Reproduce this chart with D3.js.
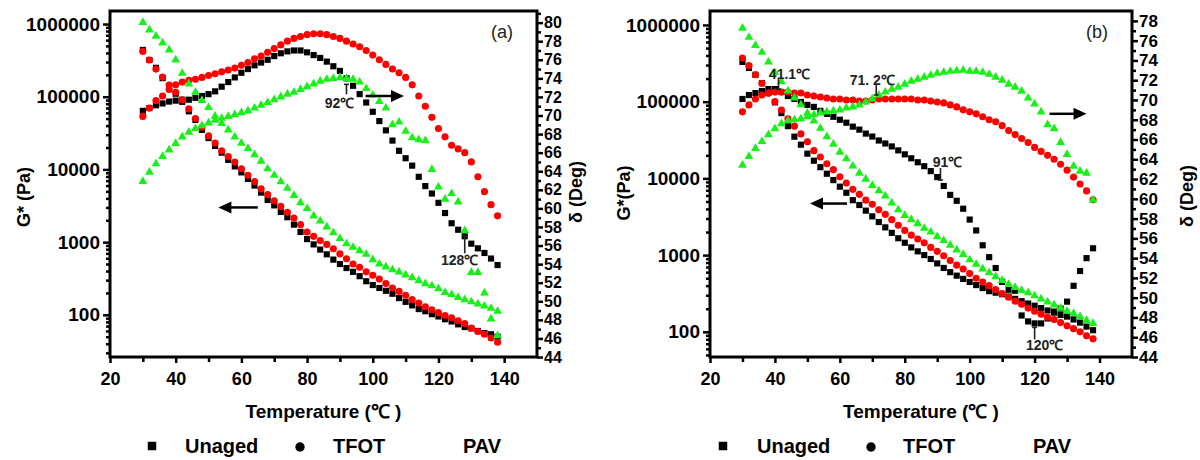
<!DOCTYPE html>
<html>
<head>
<meta charset="utf-8">
<script src="https://cdn.jsdelivr.net/npm/d3@7"></script>
<style>
  body { margin: 0; background: #fff; }
</style>
</head>
<body>
<svg id="chart" width="1200" height="460"></svg>
<script>
// temperatures (deg C), one point every 2 degrees
var temps = [30,32,34,36,38,40,42,44,46,48,50,52,54,56,58,60,62,64,66,68,70,72,74,76,78,80,82,84,86,88,
  90,92,94,96,98,100,102,104,106,108,110,112,114,116,118,120,122,124,126,128,130,132,134,136,138];

// panel (a): G* in Pa
var gUnagedA = [4.4e5,3.2e5,2.5e5,1.8e5,1.4e5,1.1e5,8.5e4,6.3e4,4.8e4,3.5e4,2.7e4,2.1e4,1.7e4,1.35e4,1.1e4,9100,7400,6000,4800,3800,
  3200,2600,2200,1740,1380,1100,930,790,680,575,500,440,390,340,290,257,234,214,195,170,151,135,120,112,102,95,87,81,74,68,65,60,56,54,50];
var gTfotA = [4.2e5,3.2e5,2.4e5,1.86e5,1.45e5,1.15e5,9.1e4,6.8e4,5.0e4,3.8e4,2.9e4,2.3e4,1.8e4,1.5e4,1.26e4,1.02e4,8300,6800,5400,4500,
  3700,3100,2570,2140,1740,1380,1200,1050,930,810,690,590,500,450,390,350,310,270,234,210,186,162,145,129,117,107,98,91,83,76,66,59,54,48,42];
var gPavA = [1.05e6,8.3e5,6.8e5,5.5e5,4.4e5,3.2e5,2.1e5,1.5e5,1.15e5,8.9e4,7.1e4,5.4e4,4.3e4,3.5e4,2.8e4,2.3e4,1.95e4,1.6e4,1.3e4,1.02e4,
  8300,6800,5500,4400,3500,2900,2300,1950,1620,1350,1120,950,850,760,680,575,500,457,417,390,355,324,295,269,251,229,204,190,174,162,151,141,132,123,112];
// panel (a): phase angle delta in deg
var dUnagedA = [70.5,70.8,71.1,71.3,71.5,71.6,71.7,71.7,71.9,72.1,72.3,72.6,73.1,73.6,74.1,74.6,75.0,75.4,75.7,76.0,
  76.4,76.7,76.9,77.0,77.0,76.8,76.5,76.2,75.8,75.3,74.8,74.0,73.2,72.3,71.4,70.4,69.4,68.4,67.3,66.2,
  65.4,64.6,63.4,62.4,61.6,60.6,59.5,58.4,57.7,57.0,56.2,55.7,55.2,54.6,53.9];
var dTfotA = [69.9,70.8,71.6,72.1,72.8,73.3,73.6,73.8,73.9,74.1,74.3,74.5,74.7,74.9,75.1,75.4,75.7,76.1,76.4,76.8,
  77.2,77.6,78.0,78.3,78.5,78.7,78.8,78.8,78.7,78.5,78.3,78.0,77.7,77.4,77.0,76.5,76.0,75.5,75.0,74.6,
  74.1,73.3,72.1,71.0,69.8,68.6,67.7,66.8,66.4,66.0,65.0,63.4,61.8,60.4,59.2];
var dPavA = [62.9,63.9,64.8,65.6,66.3,67.0,67.7,68.2,68.6,68.9,69.2,69.5,69.7,69.9,70.1,70.3,70.5,70.8,71.1,71.4,
  71.7,72.0,72.3,72.5,72.8,73.1,73.4,73.7,73.9,74.0,74.1,74.0,73.9,73.6,72.9,72.2,71.5,70.8,69.0,69.3,
  68.3,67.6,67.4,67.3,64.2,62.3,61.0,61.6,60.7,57.6,53.1,53.1,50.9,48.1,46.3];

// panel (b): G* in Pa
var gUnagedB = [3.3e5,2.75e5,2.24e5,1.74e5,1.32e5,9.8e4,7.1e4,4.8e4,3.5e4,2.75e4,2.1e4,1.7e4,1.4e4,1.15e4,9500,7800,6500,5200,4500,3800,
  3200,2700,2300,1950,1660,1450,1260,1120,1000,890,780,680,600,540,490,447,407,372,339,324,309,288,269,251,234,219,204,190,178,166,158,145,132,117,105];
var gTfotB = [3.7e5,2.95e5,2.24e5,1.74e5,1.29e5,1.0e5,7.8e4,6.0e4,4.8e4,3.8e4,3.0e4,2.3e4,1.9e4,1.55e4,1.3e4,1.05e4,8700,7200,6200,5200,
  4600,3900,3400,2900,2450,2100,1820,1620,1450,1260,1120,980,850,740,660,575,500,447,400,355,316,282,251,229,204,186,170,155,145,132,120,110,100,89,81];
var gPavB = [9.1e5,6.9e5,5.4e5,4.4e5,3.3e5,2.4e5,1.82e5,1.38e5,1.12e5,9.1e4,7.1e4,5.6e4,4.5e4,3.5e4,2.8e4,2.2e4,1.8e4,1.45e4,1.17e4,9800,
  8100,6900,5900,4800,3900,3300,2900,2570,2240,2000,1740,1550,1350,1170,1020,870,760,660,590,525,468,417,380,347,324,295,269,245,224,204,186,174,158,141,129];
// panel (b): phase angle delta in deg
var dUnagedB = [70.1,70.5,70.7,70.9,71.1,71.1,70.8,70.4,70.1,69.8,69.5,69.3,68.9,68.6,68.3,68.0,67.7,67.3,67.0,66.6,
  66.3,65.9,65.6,65.3,64.9,64.5,64.1,63.7,63.3,62.8,62.2,61.3,60.4,59.8,59.0,57.9,56.8,55.3,54.1,53.0,
  51.6,50.8,50.7,48.2,47.6,47.4,47.4,47.9,48.6,48.9,49.6,51.2,52.7,54.0,55.0];
var dTfotB = [68.8,69.5,70.1,70.5,70.7,70.8,70.8,70.8,70.7,70.7,70.5,70.4,70.3,70.2,70.1,70.1,70.0,70.0,69.9,69.9,
  70.0,70.1,70.1,70.1,70.1,70.1,70.1,70.0,70.0,69.9,69.8,69.7,69.5,69.3,69.0,68.8,68.6,68.3,68.0,67.8,
  67.4,66.9,66.5,66.1,65.7,65.2,64.8,64.4,64.0,63.5,62.9,62.2,61.5,60.8,59.9];
var dPavB = [63.4,64.3,65.1,65.8,66.5,67.1,67.6,67.9,68.0,68.1,68.3,68.5,68.7,68.8,68.9,69.0,69.2,69.3,69.5,69.8,
  70.1,70.5,70.8,71.1,71.3,71.6,71.9,72.1,72.3,72.5,72.7,72.8,72.9,72.95,73.0,72.9,72.9,72.8,72.6,72.3,
  72.0,71.6,71.3,70.9,70.2,69.6,68.8,67.5,67.1,65.7,64.5,63.3,62.8,62.6,59.9];

// axis ticks
var xMajor = [20,40,60,80,100,120,140];
var xMinor = [30,50,70,90,110,130];
var gMajor = [100,1000,10000,100000,1000000];

var FONT = '"Liberation Sans", Arial, Helvetica, sans-serif';
var svg = d3.select("#chart");

var sampleStyle = {
  Unaged: { color: "#000000", shape: d3.symbolSquare, size: 38 },
  TFOT:   { color: "#ff0000", shape: d3.symbolCircle, size: 40 },
  PAV:    { color: "#19f019", shape: d3.symbolTriangle, size: 34 }
};

var panels = [
  {
    name: "(a)", left: 110, right: 537, top: 11, bottom: 357,
    gDomain: [26.3, 1.51e6], dDomain: [44, 81.25], dTop: 80, dFont: 16,
    gTitle: "G* (Pa)", gTitleX: 24, gTitleY: 197, dTitleX: 576, dTitleY: 192,
    series: [
      { sample: "Unaged", g: gUnagedA, d: dUnagedA },
      { sample: "TFOT", g: gTfotA, d: dTfotA },
      { sample: "PAV", g: gPavA, d: dPavA }
    ],
    notes: [
      { t: 92, d: 74.0, label: "92℃", from: 6, to: 16, tx: -7, ty: 30 },
      { t: 128, d: 57.0, label: "128℃", from: 0, to: 17, tx: -5, ty: 29 }
    ],
    arrows: [
      { axis: "g", t0: 65, t1: 53, v: 3000 },
      { axis: "d", t0: 97.8, t1: 109.5, v: 72.1 }
    ],
    legend: [152, 185, 300, 333, 463]
  },
  {
    name: "(b)", left: 710, right: 1132, top: 11, bottom: 357,
    gDomain: [47, 1.52e6], dDomain: [44, 79], dTop: 78, dFont: 17,
    gTitle: "G*(Pa)", gTitleX: 624, gTitleY: 193, dTitleX: 1187, dTitleY: 196,
    series: [
      { sample: "Unaged", g: gUnagedB, d: dUnagedB },
      { sample: "TFOT", g: gTfotB, d: dTfotB },
      { sample: "PAV", g: gPavB, d: dPavB }
    ],
    notes: [
      { t: 41.1, d: 70.9, label: "41.1℃", from: -12, to: -2, tx: 11, ty: -12 },
      { t: 71.2, d: 70.3, label: "71. 2℃", from: -12, to: -2, tx: -4, ty: -12 },
      { t: 91, d: 61.8, label: "91℃", from: -13, to: -1, tx: 7, ty: -14 },
      { t: 120, d: 47.4, label: "120℃", from: 4, to: 16, tx: 10, ty: 27 }
    ],
    arrows: [
      { axis: "g", t0: 62.2, t1: 50.8, v: 4700 },
      { axis: "d", t0: 124.6, t1: 136, v: 68.6 }
    ],
    legend: [723, 757, 871, 903, 1033]
  }
];

function styleAxis(sel, fs) {
  sel.attr("font-family", FONT).attr("font-size", fs).attr("font-weight", "bold");
  sel.select(".domain").remove();
  sel.selectAll(".tick line").attr("stroke", "#000").attr("stroke-width", 2.5);
  sel.selectAll(".tick text").attr("fill", "#000");
}

function drawPanel(p) {
  var x = d3.scaleLinear().domain([20, 150]).range([p.left, p.right]);
  var yG = d3.scaleLog().domain(p.gDomain).range([p.bottom, p.top]);
  var yD = d3.scaleLinear().domain(p.dDomain).range([p.bottom, p.top]);
  var g = svg.append("g");

  // x axis
  g.append("g").attr("transform", "translate(0," + p.bottom + ")")
    .call(d3.axisBottom(x).tickValues(xMinor).tickSize(5).tickFormat(""))
    .call(styleAxis, 18);
  g.append("g").attr("transform", "translate(0," + p.bottom + ")")
    .call(d3.axisBottom(x).tickValues(xMajor).tickSize(6).tickPadding(9).tickFormat(d3.format("d")))
    .call(styleAxis, 18);

  // left log axis
  var gMinor = yG.ticks().filter(function (v) { return gMajor.indexOf(v) < 0; });
  g.append("g").attr("transform", "translate(" + p.left + ",0)")
    .call(d3.axisLeft(yG).tickValues(gMinor).tickSize(4).tickFormat(""))
    .call(styleAxis, 19);
  g.append("g").attr("transform", "translate(" + p.left + ",0)")
    .call(d3.axisLeft(yG).tickValues(gMajor).tickSize(7).tickPadding(3).tickFormat(d3.format("d")))
    .call(styleAxis, 19);

  // right delta axis
  var dMajor = d3.range(44, p.dTop + 1, 2);
  var dMinor = d3.range(45, p.dDomain[1], 2);
  g.append("g").attr("transform", "translate(" + p.right + ",0)")
    .call(d3.axisRight(yD).tickValues(dMinor).tickSize(4).tickFormat(""))
    .call(styleAxis, p.dFont);
  g.append("g").attr("transform", "translate(" + p.right + ",0)")
    .call(d3.axisRight(yD).tickValues(dMajor).tickSize(6).tickPadding(1).tickFormat(d3.format("d")))
    .call(styleAxis, p.dFont);

  // frame
  g.append("rect")
    .attr("x", p.left).attr("y", p.top)
    .attr("width", p.right - p.left).attr("height", p.bottom - p.top)
    .attr("fill", "none").attr("stroke", "#000").attr("stroke-width", 3);

  // data markers: G* and delta for each sample
  p.series.forEach(function (s) {
    var st = sampleStyle[s.sample];
    var sym = d3.symbol().type(st.shape).size(st.size);
    var pts = temps.map(function (t, i) { return { t: t, g: s.g[i], d: s.d[i] }; });
    g.append("g").selectAll("path").data(pts).join("path")
      .attr("d", sym)
      .attr("fill", st.color)
      .attr("transform", function (d) { return "translate(" + x(d.t) + "," + yG(d.g) + ")"; });
    g.append("g").selectAll("path").data(pts).join("path")
      .attr("d", sym)
      .attr("fill", st.color)
      .attr("transform", function (d) { return "translate(" + x(d.t) + "," + yD(d.d) + ")"; });
  });

  // temperature annotations
  p.notes.forEach(function (n) {
    var nx = x(n.t), ny = yD(n.d);
    var y0 = ny + n.from, y1 = ny + n.to;
    var capY = n.from < 0 ? y1 : y0;
    g.append("line").attr("x1", nx).attr("x2", nx).attr("y1", y0).attr("y2", y1)
      .attr("stroke", "#222").attr("stroke-width", 1.6);
    g.append("line").attr("x1", nx - 2.5).attr("x2", nx + 2.5).attr("y1", capY).attr("y2", capY)
      .attr("stroke", "#222").attr("stroke-width", 1.6);
    g.append("text").attr("x", nx + n.tx).attr("y", ny + n.ty)
      .attr("text-anchor", "middle")
      .attr("font-family", FONT).attr("font-size", 14).attr("font-weight", "bold")
      .attr("fill", "#222").text(n.label);
  });

  // arrows pointing to the axis each curve group belongs to
  p.arrows.forEach(function (a) {
    var ay = a.axis === "g" ? yG(a.v) : yD(a.v);
    var x0 = x(a.t0), x1 = x(a.t1);
    var dir = x1 > x0 ? 1 : -1;
    g.append("line").attr("x1", x0).attr("x2", x1 - dir * 10).attr("y1", ay).attr("y2", ay)
      .attr("stroke", "#000").attr("stroke-width", 2.5);
    g.append("path")
      .attr("d", "M" + x1 + "," + ay + "L" + (x1 - dir * 13) + "," + (ay - 6) + "L" + (x1 - dir * 13) + "," + (ay + 6) + "Z")
      .attr("fill", "#000");
  });

  // panel tag
  g.append("text").attr("x", p.right - 35).attr("y", 38)
    .attr("text-anchor", "middle")
    .attr("font-family", FONT).attr("font-size", 18).attr("fill", "#222")
    .text(p.name);

  // axis titles
  g.append("text")
    .attr("transform", "translate(" + p.gTitleX + "," + p.gTitleY + ") rotate(-90)")
    .attr("text-anchor", "middle").attr("dy", "0.35em")
    .attr("font-family", FONT).attr("font-size", 18).attr("font-weight", "bold")
    .text(p.gTitle);
  g.append("text")
    .attr("transform", "translate(" + p.dTitleX + "," + p.dTitleY + ") rotate(-90)")
    .attr("text-anchor", "middle").attr("dy", "0.35em")
    .attr("font-family", FONT).attr("font-size", 18).attr("font-weight", "bold")
    .text("δ (Deg)");
  g.append("text")
    .attr("x", (p.left + p.right) / 2).attr("y", 418)
    .attr("text-anchor", "middle")
    .attr("font-family", FONT).attr("font-size", 19).attr("font-weight", "bold")
    .text("Temperature (℃ )");

  // legend (markers drawn in black, PAV has no marker in the original)
  var lg = g.append("g").attr("font-family", FONT).attr("font-size", 20).attr("font-weight", "bold");
  lg.append("path").attr("d", d3.symbol().type(d3.symbolSquare).size(72))
    .attr("transform", "translate(" + p.legend[0] + ",446)");
  lg.append("text").attr("x", p.legend[1]).attr("y", 453).text("Unaged");
  lg.append("path").attr("d", d3.symbol().type(d3.symbolCircle).size(70))
    .attr("transform", "translate(" + p.legend[2] + ",447)");
  lg.append("text").attr("x", p.legend[3]).attr("y", 453).text("TFOT");
  lg.append("text").attr("x", p.legend[4]).attr("y", 453).text("PAV");
}

panels.forEach(drawPanel);
</script>
</body>
</html>
